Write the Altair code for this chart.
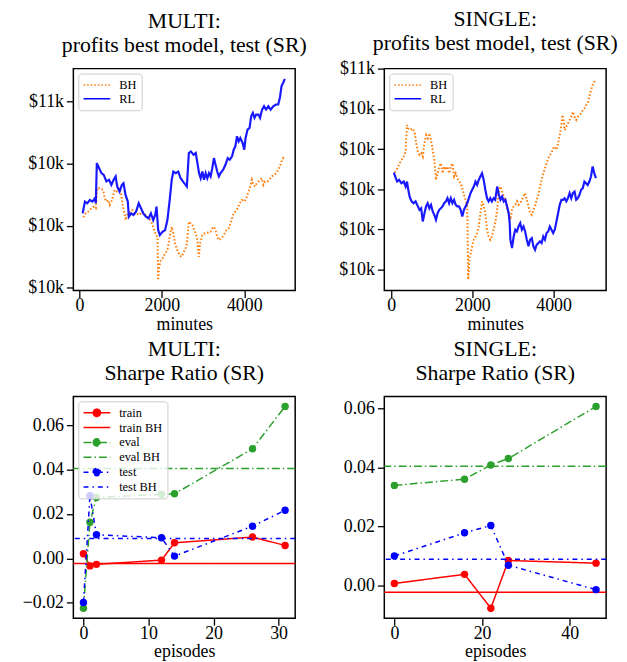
import altair as alt
import pandas as pd

FONT = "Liberation Serif"

# ---------------- data: profits (test) ----------------
multi_rl_min = [80, 136, 192, 256, 320, 376, 400, 424, 480, 536, 592, 656, 720, 776, 832, 880, 920, 976,
                1032, 1072, 1120, 1176, 1200, 1256, 1312, 1376, 1440, 1496, 1552, 1616, 1680, 1736, 1792,
                1840, 1872, 1912, 1952, 2016, 2080, 2136, 2192, 2240, 2280, 2336, 2400, 2456, 2512, 2576,
                2608, 2656, 2704, 2768, 2824, 2864, 2904, 2944, 2984, 3024, 3064, 3104, 3144, 3184, 3224,
                3264, 3304, 3344, 3384, 3424, 3488, 3544, 3600, 3648, 3704, 3744, 3784, 3824, 3864, 3904,
                3960, 4000, 4032, 4080, 4128, 4168, 4208, 4248, 4288, 4344, 4384, 4432, 4480, 4528, 4584,
                4640, 4704, 4768, 4824, 4864, 4904, 4944, 4984]
multi_rl_val = [10099, 10194, 10180, 10207, 10194, 10221, 10180, 10504, 10463, 10423, 10409, 10356, 10369,
                10329, 10369, 10396, 10315, 10275, 10329, 10342, 10248, 10194, 10072, 10099, 10086, 10113,
                10180, 10140, 10099, 10072, 10059, 10099, 10045, 10086, 10153, 9964, 9924, 9951, 9964,
                10045, 10207, 10369, 10436, 10423, 10436, 10382, 10356, 10329, 10315, 10585, 10598, 10571,
                10585, 10504, 10423, 10382, 10436, 10369, 10423, 10382, 10423, 10396, 10463, 10544, 10490,
                10436, 10396, 10423, 10450, 10490, 10544, 10531, 10558, 10612, 10639, 10720, 10679, 10706,
                10666, 10612, 10706, 10774, 10787, 10881, 10908, 10868, 10895, 10895, 10868, 10935, 10962,
                10935, 10962, 10935, 10962, 10976, 10976, 11030, 11124, 11151, 11183]
multi_bh_min = [96, 160, 216, 296, 352, 400, 432, 496, 576, 616, 656, 696, 736, 776, 816, 856, 912, 976,
                1016, 1056, 1096, 1120, 1176, 1216, 1280, 1336, 1392, 1456, 1520, 1576, 1632, 1696, 1760,
                1816, 1856, 1896, 1912, 1936, 1976, 2016, 2080, 2136, 2192, 2240, 2280, 2320, 2376, 2432,
                2480, 2536, 2576, 2608, 2656, 2704, 2744, 2784, 2824, 2864, 2896, 2928, 2984, 3024, 3088,
                3144, 3184, 3224, 3264, 3304, 3344, 3384, 3440, 3504, 3568, 3624, 3680, 3728, 3784, 3840,
                3888, 3944, 4000, 4048, 4104, 4144, 4184, 4224, 4264, 4304, 4344, 4384, 4424, 4464, 4504,
                4560, 4608, 4664, 4720, 4784, 4824, 4864, 4904, 4944, 4984]
multi_bh_val = [10067, 10105, 10113, 10140, 10153, 10140, 10302, 10302, 10288, 10221, 10194, 10207, 10167,
                10194, 10234, 10288, 10275, 10302, 10248, 10153, 10099, 10045, 10099, 10113, 10126, 10099,
                10099, 10086, 10113, 10099, 10072, 10059, 10018, 9964, 9924, 9911, 9560, 9668, 9722, 9735,
                9776, 9803, 9911, 9991, 9937, 9857, 9803, 9762, 9749, 9789, 9816, 9857, 10032, 10018, 10005,
                9964, 9937, 9884, 9749, 9857, 9924, 9937, 9937, 9951, 9951, 9978, 9991, 9964, 9911, 9884,
                9897, 9924, 9964, 9978, 10032, 10086, 10113, 10140, 10180, 10207, 10194, 10221, 10275, 10315,
                10369, 10329, 10315, 10342, 10356, 10369, 10382, 10329, 10356, 10356, 10369, 10396, 10409,
                10423, 10450, 10477, 10517, 10544, 10531]

single_rl_min = [65, 113, 146, 194, 251, 308, 356, 389, 421, 454, 502, 551, 600, 657, 697, 738, 778, 819,
                 859, 900, 940, 981, 1022, 1062, 1103, 1143, 1184, 1224, 1265, 1305, 1346, 1386, 1427, 1468,
                 1508, 1549, 1589, 1630, 1670, 1711, 1751, 1792, 1833, 1873, 1914, 1954, 1995, 2035, 2076,
                 2116, 2157, 2197, 2238, 2279, 2319, 2360, 2400, 2441, 2481, 2522, 2562, 2611, 2652, 2692,
                 2733, 2773, 2814, 2854, 2895, 2919, 2936, 2976, 3017, 3057, 3098, 3138, 3179, 3219, 3260,
                 3300, 3341, 3382, 3422, 3463, 3503, 3544, 3584, 3625, 3665, 3706, 3747, 3787, 3828, 3868,
                 3909, 3949, 3990, 4030, 4071, 4111, 4152, 4193, 4233, 4274, 4314, 4355, 4395, 4436, 4476,
                 4517, 4558, 4598, 4639, 4679, 4720, 4760, 4801, 4841, 4882, 4922, 4963, 5004, 5044]
single_rl_val = [10083, 10055, 10038, 10046, 10030, 10038, 10013, 10038, 9997, 9963, 9939, 9930, 9939, 9914,
                 9897, 9905, 9839, 9880, 9914, 9930, 9905, 9922, 9889, 9872, 9847, 9880, 9897, 9905, 9914,
                 9930, 9939, 9955, 9930, 9955, 9930, 9947, 9922, 9914, 9914, 9897, 9864, 9897, 9914, 9930,
                 9955, 9980, 9997, 10013, 10038, 10021, 10046, 10063, 10079, 10046, 9997, 9955, 9939, 9955,
                 9939, 9955, 9947, 10013, 9972, 9947, 9963, 9939, 9947, 9914, 9880, 9831, 9748, 9706, 9764,
                 9798, 9789, 9814, 9831, 9798, 9814, 9789, 9748, 9715, 9748, 9756, 9715, 9698, 9723, 9731,
                 9740, 9731, 9764, 9748, 9781, 9789, 9814, 9798, 9781, 9798, 9839, 9880, 9922, 9947, 9947,
                 9955, 9939, 9955, 9980, 9955, 9980, 9988, 9947, 9955, 9972, 9997, 10005, 10038, 10030,
                 10021, 10038, 10063, 10113, 10079, 10055]
single_bh_min = [89, 129, 170, 211, 251, 292, 332, 356, 389, 421, 470, 519, 575, 616, 657, 697, 738, 778,
                 819, 859, 900, 940, 981, 1022, 1062, 1103, 1143, 1184, 1224, 1265, 1305, 1346, 1386, 1427,
                 1468, 1508, 1549, 1589, 1630, 1670, 1711, 1751, 1792, 1833, 1873, 1897, 1930, 1962, 1995,
                 2035, 2076, 2116, 2157, 2197, 2238, 2279, 2319, 2360, 2400, 2441, 2481, 2522, 2562, 2611,
                 2652, 2692, 2733, 2773, 2814, 2854, 2895, 2936, 2976, 3017, 3057, 3098, 3138, 3179, 3219,
                 3260, 3300, 3341, 3382, 3422, 3463, 3503, 3544, 3584, 3625, 3665, 3706, 3747, 3787, 3828,
                 3868, 3909, 3949, 3990, 4030, 4071, 4111, 4152, 4193, 4217, 4249, 4274, 4314, 4355, 4395,
                 4436, 4476, 4517, 4558, 4598, 4639, 4679, 4720, 4760, 4801, 4841, 4882, 4922, 4963, 5004,
                 5044]
single_bh_val = [10083, 10096, 10113, 10129, 10146, 10154, 10171, 10196, 10320, 10303, 10295, 10303, 10287,
                 10229, 10187, 10171, 10179, 10162, 10229, 10270, 10254, 10278, 10245, 10196, 10146, 10046,
                 10079, 10113, 10129, 10079, 10113, 10096, 10113, 10079, 10113, 10129, 10063, 10079, 10055,
                 10038, 10030, 10005, 9972, 9947, 9914, 9549, 9665, 9682, 9715, 9748, 9764, 9781, 9814, 9880,
                 9939, 9914, 9880, 9798, 9764, 9748, 9764, 9798, 9831, 9897, 9997, 10013, 9988, 9963, 9947,
                 9914, 9872, 9847, 9897, 9914, 9922, 9939, 9922, 9930, 9947, 9963, 9980, 9947, 9914, 9880,
                 9872, 9897, 9914, 9947, 9972, 10013, 10046, 10079, 10104, 10129, 10154, 10171, 10179, 10204,
                 10212, 10196, 10229, 10270, 10320, 10370, 10345, 10295, 10312, 10328, 10345, 10361, 10386,
                 10361, 10345, 10361, 10370, 10378, 10394, 10403, 10419, 10428, 10461, 10494, 10519, 10535,
                 10544]

# ---------------- data: Sharpe ratio ----------------
multi_episodes = [0, 1, 2, 12, 14, 26, 31]
multi_train = [0.0021, -0.0034, -0.0027, -0.0008, 0.0070, 0.0096, 0.0058]
multi_eval = [-0.0225, 0.0163, 0.0274, 0.0289, 0.0291, 0.0494, 0.0685]
multi_test = [-0.0199, 0.0282, 0.0106, 0.0093, 0.0010, 0.0145, 0.0217]

single_episodes = [0, 16, 22, 26, 46]
single_train = [0.0007, 0.0038, -0.0077, 0.0085, 0.0076]
single_eval = [0.0340, 0.0361, 0.0409, 0.0431, 0.0608]
single_test = [0.0100, 0.0179, 0.0204, 0.0069, -0.0014]

bh_names = ["train BH", "eval BH", "test BH"]
bh_values = [-0.0023, 0.0405, 0.0089]

# ---------------- styles ----------------
ORANGE = "#ff7f0e"
BLUE = "#0000ff"
RED = "#ff0000"
GREEN = "#2ca02c"
DOTTED = [1.6, 2.0]
SOLID = [1, 0]
DASHDOT = [8, 3, 1.5, 3]
LOOSE_DASHDOT = [5, 4, 1.5, 4]

LINE_PATH = "M-2.45,0L2.45,0"
LINE_DOT_PATH = ("M-2.45,0L2.45,0M-0.67,0A0.67,0.67,0,1,1,0.67,0"
                 "A0.67,0.67,0,1,1,-0.67,0Z")

K_LABEL = ("'$' + (abs(datum.value/1000 - floor(datum.value/1000) - 0.5) < 1e-9 ? "
           "(floor(datum.value/1000) % 2 == 0 ? floor(datum.value/1000) : floor(datum.value/1000) + 1) "
           ": round(datum.value/1000)) + 'k'")

W, H = 224, 224


def make_legend():
    return alt.Legend(title=None, orient="top-left", offset=5,
                      fillColor="rgba(255,255,255,0.8)", strokeColor="#cccccc",
                      cornerRadius=3, padding=5, labelFont=FONT, labelFontSize=12.5,
                      labelColor="black", symbolSize=121, symbolStrokeWidth=1.5,
                      symbolOffset=7.25, labelOffset=16, rowPadding=1, labelLimit=300)


def legend_layer(names, colors, shapes, dashes, xfield, yfield):
    df = pd.DataFrame({"series": names, xfield: [0] * len(names), yfield: [0] * len(names)})
    leg = make_legend()
    return (alt.Chart(df).transform_filter("datum.series == 'none'")
            .mark_point(size=121, strokeWidth=1.5, opacity=1)
            .encode(x=alt.X(f"{xfield}:Q"), y=alt.Y(f"{yfield}:Q"),
                    stroke=alt.Stroke("series:N", scale=alt.Scale(domain=names, range=colors), legend=leg),
                    fill=alt.Fill("series:N", scale=alt.Scale(domain=names, range=colors), legend=leg),
                    shape=alt.Shape("series:N", scale=alt.Scale(domain=names, range=shapes), legend=leg),
                    strokeDash=alt.StrokeDash("series:N", scale=alt.Scale(domain=names, range=dashes),
                                              legend=leg)))


def profit_panel(name, rl_min, rl_val, bh_min, bh_val, xdom, ydom, yticks, title_dy):
    x = alt.X("minute:Q", scale=alt.Scale(domain=xdom, nice=False, zero=False),
              axis=alt.Axis(values=[0, 2000, 4000], format="d", title="minutes"))
    y = alt.Y("value:Q", scale=alt.Scale(domain=ydom, nice=False, zero=False),
              axis=alt.Axis(values=yticks, labelExpr=K_LABEL, title=None, minExtent=65, maxExtent=65))
    bh = alt.Chart(pd.DataFrame({"minute": bh_min, "value": bh_val})).mark_line(
        clip=True, color=ORANGE, strokeDash=DOTTED, strokeWidth=2.0).encode(x=x, y=y)
    rl = alt.Chart(pd.DataFrame({"minute": rl_min, "value": rl_val})).mark_line(
        clip=True, color=BLUE, strokeWidth=2.2, opacity=0.9).encode(x=x, y=y)
    leg = legend_layer(["BH", "RL"], [ORANGE, BLUE], [LINE_PATH, LINE_PATH], [DOTTED, SOLID],
                       "minute", "value")
    return alt.layer(bh, rl, leg).properties(
        width=W, height=H,
        title=alt.TitleParams([f"{name}:", "profits best model, test (SR)"], dy=title_dy))


def sr_panel(name, episodes, train, evals, test, xdom, ydom, xticks, yticks, with_legend):
    x = alt.X("episode:Q", scale=alt.Scale(domain=xdom, nice=False, zero=False),
              axis=alt.Axis(values=xticks, format="d", title="episodes"))
    y = alt.Y("sr:Q", scale=alt.Scale(domain=ydom, nice=False, zero=False),
              axis=alt.Axis(values=yticks, format=".2f", title=None, minExtent=65, maxExtent=65))
    layers = []
    specs = [(train, RED, SOLID, 0), (evals, GREEN, DASHDOT, 1), (test, BLUE, LOOSE_DASHDOT, 2)]
    for vals, col, dash, i in specs:
        df = pd.DataFrame({"episode": episodes, "sr": vals})
        layers.append(alt.Chart(df).mark_line(clip=True, color=col, strokeDash=dash, strokeWidth=1.5)
                      .encode(x=x, y=y))
        layers.append(alt.Chart(df).mark_circle(clip=True, color=col, size=56, opacity=1)
                      .encode(x=x, y=y))
        bdf = pd.DataFrame({"sr": [bh_values[i]]})
        layers.append(alt.Chart(bdf).mark_rule(color=col, strokeDash=dash, strokeWidth=1.5)
                      .encode(y=y))
    if with_legend:
        names = ["train", "train BH", "eval", "eval BH", "test", "test BH"]
        layers.append(legend_layer(names, [RED, RED, GREEN, GREEN, BLUE, BLUE],
                                   [LINE_DOT_PATH, LINE_PATH] * 3,
                                   [SOLID, SOLID, DASHDOT, DASHDOT, LOOSE_DASHDOT, LOOSE_DASHDOT],
                                   "episode", "sr"))
    return alt.layer(*layers).properties(
        width=W, height=H, title=alt.TitleParams([f"{name}:", "Sharpe Ratio (SR)"]))


p1 = profit_panel("MULTI", multi_rl_min, multi_rl_val, multi_bh_min, multi_bh_val,
                  [-145, 5235], [9478, 11265], [9500, 10000, 10500, 11000], 0)
p2 = profit_panel("SINGLE", single_rl_min, single_rl_val, single_bh_min, single_bh_val,
                  [-170, 5295], [9495, 10601], [9600, 9800, 10000, 10200, 10400, 10600], 7)
p3 = sr_panel("MULTI", multi_episodes, multi_train, multi_eval, multi_test,
              [-1.55, 32.55], [-0.0270, 0.0730], [0, 10, 20, 30], [-0.02, 0.0, 0.02, 0.04, 0.06], True)
p4 = sr_panel("SINGLE", single_episodes, single_train, single_eval, single_test,
              [-2.3, 48.3], [-0.0111, 0.0642], [0, 20, 40], [0.0, 0.02, 0.04, 0.06], False)

chart = (alt.concat(p1, p2, p3, p4, columns=2, spacing={"row": 107, "column": 90}, bounds="flush")
         .resolve_scale(stroke="independent", fill="independent", shape="independent",
                        strokeDash="independent")
         .resolve_legend(stroke="independent", fill="independent", shape="independent",
                         strokeDash="independent")
         .properties(padding={"top": -4, "left": 0, "right": 0, "bottom": 0})
         .configure_axis(labelFont=FONT, titleFont=FONT, labelFontSize=18, titleFontSize=18,
                         titleFontWeight="normal", labelColor="black", titleColor="black",
                         tickColor="black", tickSize=7, tickWidth=1.3, domain=False, grid=False)
         .configure_axisX(labelPadding=-1, titlePadding=1)
         .configure_axisY(labelPadding=3)
         .configure_view(stroke="black", strokeWidth=1.5)
         .configure_title(font=FONT, fontSize=22, fontWeight="normal", lineHeight=24, offset=12,
                          anchor="middle", color="black", baseline="bottom"))

chart.save("out.html", embed_options={"renderer": "svg", "actions": False})
